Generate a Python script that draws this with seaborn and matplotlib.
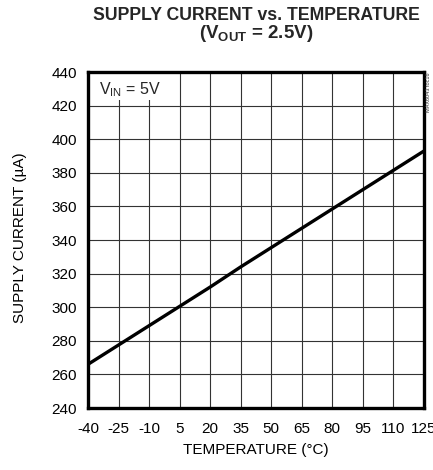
import matplotlib
matplotlib.use("Agg")
import matplotlib.pyplot as plt
import seaborn as sns
import pandas as pd
from matplotlib.patches import Rectangle

temperature = [-40, -25, -10, 5, 20, 35, 50, 65, 80, 95, 110, 125]
supply_current = [266, 277.5, 289, 300.5, 312, 324, 335.5, 347, 358.5, 370, 381.5, 393]
x_ticks = [-40, -25, -10, 5, 20, 35, 50, 65, 80, 95, 110, 125]
y_ticks = [240, 260, 280, 300, 320, 340, 360, 380, 400, 420, 440]

sns.set_theme(style="white")
plt.rcParams['font.family'] = ['Liberation Sans', 'DejaVu Sans']
plt.rcParams['mathtext.fontset'] = 'custom'
plt.rcParams['mathtext.rm'] = 'Liberation Sans'
plt.rcParams['mathtext.bf'] = 'Liberation Sans:bold'
plt.rcParams['mathtext.default'] = 'rm'

df = pd.DataFrame({"t": temperature, "i": supply_current})

fig = plt.figure(figsize=(4.33, 4.70), dpi=100)
ax = fig.add_axes([88/433, 1 - 408/470, 336/433, 336/470])

ax.set_xlim(-40, 125)
ax.set_ylim(240, 440)
ax.set_xticks(x_ticks)
ax.set_yticks(y_ticks)
ax.set_xticklabels([str(v) for v in x_ticks])
ax.set_yticklabels([str(v) for v in y_ticks])
ax.grid(True, color="#333333", linewidth=0.8)
ax.set_axisbelow(True)

sns.lineplot(data=df, x="t", y="i", ax=ax, color="black", linewidth=2.4, zorder=3)

for s in ax.spines.values():
    s.set_visible(True)
    s.set_color("black")
    s.set_linewidth(2.4)
    s.set_zorder(5)

ax.tick_params(axis="both", length=0, labelsize=11, colors="black", pad=8)
ax.tick_params(axis="x", pad=10)
ax.set_xlabel("TEMPERATURE (°C)", fontsize=11, color="black", labelpad=5)
ax.set_ylabel("SUPPLY CURRENT (µA)", fontsize=11, color="black")
ax.yaxis.set_label_coords(20/433, 232/470, transform=fig.transFigure)
ax.yaxis.label.set_va("center")

ax.add_patch(Rectangle((0, 1 - 28/336), 78/336, 28/336, transform=ax.transAxes,
                       facecolor="white", edgecolor="none", zorder=4))
ax.text(99/433, 1 - 80/470, r"V$_{\mathrm{IN}}$ = 5V", transform=fig.transFigure,
        fontsize=11.5, ha="left", va="top", zorder=6)

fig.text(256/433, 1 - 15.5/470, "SUPPLY CURRENT vs. TEMPERATURE",
         ha="center", va="center", fontsize=12.7, fontweight="bold")
fig.text(256/433, 1 - 34/470, r"(V$_{\mathbf{OUT}}$ = 2.5V)",
         ha="center", va="center", fontsize=13.5, fontweight="bold")

fig.text(428/433, 1 - 72/470, "MAX6043 toc16", rotation=90, fontsize=4,
         ha="center", va="top", color="#333333")

fig.savefig("out.png", dpi=100)
